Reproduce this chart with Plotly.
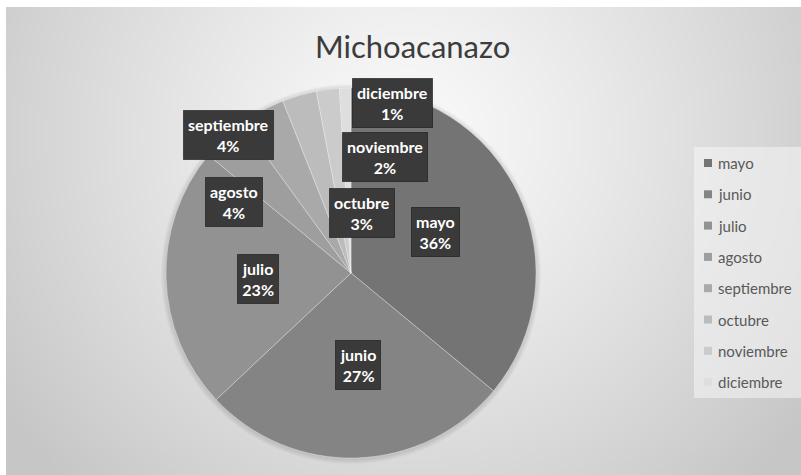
import base64, struct, zlib
import numpy as np
import plotly.graph_objects as go

# ---- data ----
months = ["mayo", "junio", "julio", "agosto", "septiembre", "octubre", "noviembre", "diciembre"]
values = [36, 27, 23, 4, 4, 3, 2, 1]
colors = ["#747474", "#848484", "#929292", "#9e9e9e", "#a9a9a9", "#bcbcbc", "#cbcbcb", "#dedede"]
title_text = "Michoacanazo"

# label box centres (pixels) - layout only
label_px = [(435, 232), (358, 365), (258, 279), (234, 202), (229, 135), (362, 213), (385, 157), (392, 103)]

W, H = 801, 475


def px(x):
    return x / W


def py(y):
    return 1 - y / H


# ---- background gradient as PNG ----
gw, gh = 200, 118
xs = np.linspace(0, W, gw)
ys = np.linspace(0, H, gh)
X, Y = np.meshgrid(xs, ys)
d = np.sqrt(((X - 405) / 420) ** 2 + ((Y - 130) / 420) ** 2)
img = np.clip(250 - 42 * d ** 1.2, 198, 250).astype(np.uint8)
raw = b"".join(b"\x00" + img[r].tobytes() for r in range(gh))


def chunk(t, data):
    c = struct.pack(">I", len(data)) + t + data
    return c + struct.pack(">I", zlib.crc32(t + data) & 0xFFFFFFFF)


png = b"\x89PNG\r\n\x1a\n" + chunk(b"IHDR", struct.pack(">IIBBBBB", gw, gh, 8, 0, 0, 0, 0)) \
    + chunk(b"IDAT", zlib.compress(raw, 9)) + chunk(b"IEND", b"")
src = "data:image/png;base64," + base64.b64encode(png).decode()

total = sum(values)
pcts = [round(v / total * 100) for v in values]

cx, cy, R = 351, 273, 185

fig = go.Figure()
fig.add_trace(go.Pie(
    labels=months, values=values, sort=False, direction="clockwise", rotation=0,
    marker=dict(colors=colors, line=dict(color="rgba(255,255,255,0.45)", width=0.7)),
    textinfo="none", showlegend=False,
    domain=dict(x=[px(cx - R), px(cx + R)], y=[py(cy + R), py(cy - R)]),
))

annotations = []
shapes = []

# soft shadow halo around the pie
for k in range(1, 6):
    shapes.append(dict(type="circle", xref="paper", yref="paper",
                       x0=px(cx - R - k), x1=px(cx + R + k), y0=py(cy + R + k + 1), y1=py(cy - R - k + 1),
                       fillcolor="rgba(0,0,0,0.025)", line=dict(width=0), layer="below"))

# title
annotations.append(dict(x=px(412), y=py(46), xref="paper", yref="paper", text=title_text,
                        showarrow=False, font=dict(family="Lato", size=31, color="#3c3c3c"),
                        xanchor="center", yanchor="middle"))

# data labels
for m, p, (lx, ly) in zip(months, pcts, label_px):
    txt = f"<b>{m}</b><br><b>{p}%</b>"
    annotations.append(dict(x=px(lx), y=py(ly), xref="paper", yref="paper", text=txt,
                            showarrow=False, xanchor="center", yanchor="middle",
                            font=dict(family="Lato", size=16, color="white"),
                            bgcolor="#3a3a3a", bordercolor="rgba(20,20,20,0.6)", borderwidth=1,
                            borderpad=4, align="center"))

# custom legend
shapes.append(dict(type="rect", xref="paper", yref="paper", x0=px(694), x1=px(801),
                   y0=py(398), y1=py(147), fillcolor="rgba(245,245,245,0.55)", line=dict(width=0),
                   layer="below"))
for i, (m, c) in enumerate(zip(months, colors)):
    yc = 163 + 31.3 * i
    shapes.append(dict(type="rect", xref="paper", yref="paper", x0=px(704), x1=px(712),
                       y0=py(yc + 4), y1=py(yc - 4), fillcolor=c, line=dict(width=0)))
    annotations.append(dict(x=px(716), y=py(yc), xref="paper", yref="paper", text=m,
                            showarrow=False, xanchor="left", yanchor="middle",
                            font=dict(family="Lato", size=15, color="#595959")))

fig.update_layout(
    width=W, height=H, margin=dict(l=0, r=0, t=0, b=0),
    paper_bgcolor="white", plot_bgcolor="white",
    annotations=annotations, shapes=shapes,
    images=[dict(source=src, xref="paper", yref="paper", x=px(6), y=py(7),
                 sizex=1 - px(6), sizey=py(7), xanchor="left", yanchor="top",
                 sizing="stretch", layer="below")],
)

fig.write_html("out.html", config={"displayModeBar": False},
               post_script="document.body.style.margin='0';")
